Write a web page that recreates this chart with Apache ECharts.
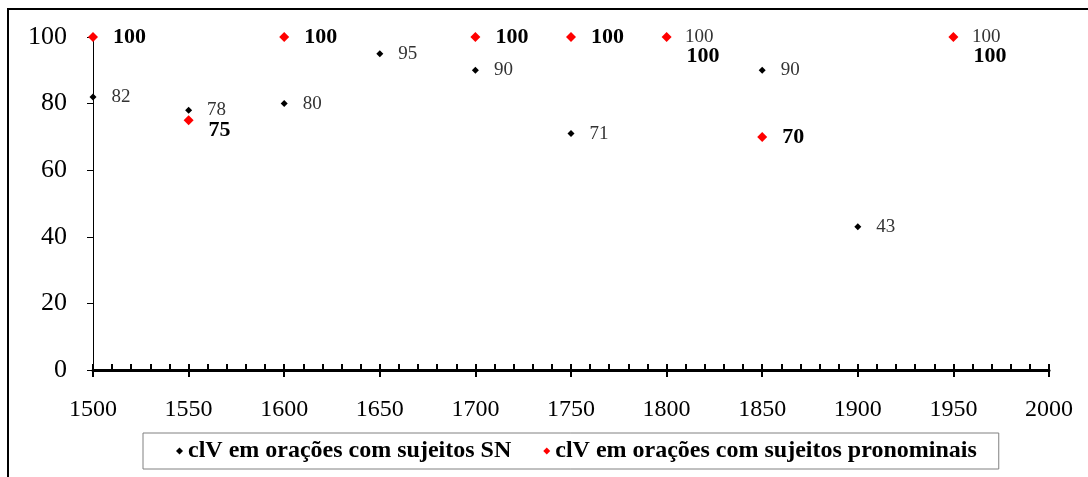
<!DOCTYPE html>
<html><head><meta charset="utf-8">
<script src="https://cdn.jsdelivr.net/npm/echarts@6/dist/echarts.min.js"></script>
<style>html,body{margin:0;padding:0;background:#fff}#c{width:1088px;height:477px}</style>
</head><body><div id="c"></div>
<script>
const years = [1500,1550,1600,1650,1700,1750,1800,1850,1900,1950];
const snValues = [82,78,80,95,90,71,100,90,43,100];
const pronYears = [1500,1550,1600,1700,1750,1800,1850,1950];
const pronValues = [100,75,100,100,100,100,70,100];
const seriesNames = ['clV em orações com sujeitos SN','clV em orações com sujeitos pronominais'];
const yTicks = [0,20,40,60,80,100];

// label nudges (style only) for overlapping labels, keyed by year
const pronLabelShift = {1550:10, 1800:19, 1950:19};

const F = '"Liberation Serif","Times New Roman",serif';
const chart = echarts.init(document.getElementById('c'));
chart.setOption({
  animation:false,
  backgroundColor:'#fff',
  graphic:[{type:'rect',shape:{x:8,y:9,width:1200,height:600},style:{fill:'none',stroke:'#000',lineWidth:2},z:-1}],
  grid:{left:93,right:39,top:37,bottom:107},
  legend:{
    left:143, top:433,
    padding:[6,22,6,33],
    itemGap:32, itemWidth:7, itemHeight:7,
    borderColor:'#808080', borderWidth:1,
    textStyle:{fontFamily:F,fontWeight:'bold',fontSize:24,color:'#000'},
    data:[{name:seriesNames[0],icon:'diamond',itemStyle:{color:'#000'}},{name:seriesNames[1],icon:'diamond',itemStyle:{color:'#ff0000'}}]
  },
  xAxis:[{
    type:'value',min:1500,max:2000,interval:50,position:'bottom',
    axisLine:{lineStyle:{color:'#000',width:3}},
    axisTick:{show:true,inside:true,length:6,lineStyle:{color:'#000',width:2}},
    minorTick:{show:true,splitNumber:5,length:6,lineStyle:{color:'#000',width:2}},
    splitLine:{show:false},
    axisLabel:{fontFamily:F,fontSize:24,color:'#000',margin:28,formatter:v=>String(v)}
  },{
    type:'value',min:1500,max:2000,interval:50,position:'bottom',
    axisLine:{show:false},
    axisTick:{show:true,inside:false,length:7,lineStyle:{color:'#000',width:2}},
    axisLabel:{show:false},splitLine:{show:false}
  }],
  yAxis:{
    type:'value',min:0,max:100,interval:20,
    axisLine:{show:true,lineStyle:{color:'#000',width:1}},
    axisTick:{show:true,length:6,lineStyle:{color:'#000'}},
    splitLine:{show:false},
    axisLabel:{fontFamily:F,fontSize:26,color:'#000',margin:26,formatter:v=>yTicks.includes(v)?String(v):''}
  },
  series:[{
    name:seriesNames[0],type:'scatter',symbol:'diamond',symbolSize:7,
    itemStyle:{color:'#000',opacity:1},
    data:years.map((y,i)=>[y,snValues[i]]),
    label:{show:true,position:'right',distance:15,fontFamily:F,fontSize:19,color:'#333',formatter:p=>p.value[1]}
  },{
    name:seriesNames[1],type:'scatter',symbol:'diamond',symbolSize:10,
    itemStyle:{color:'#ff0000',opacity:1},
    data:pronYears.map((y,i)=>({value:[y,pronValues[i]],label:{offset:[0,pronLabelShift[y]||0]}})),
    label:{show:true,position:'right',distance:15,fontFamily:F,fontSize:22,fontWeight:'bold',color:'#000',formatter:p=>p.value[1]}
  }]
});
</script></body></html>
